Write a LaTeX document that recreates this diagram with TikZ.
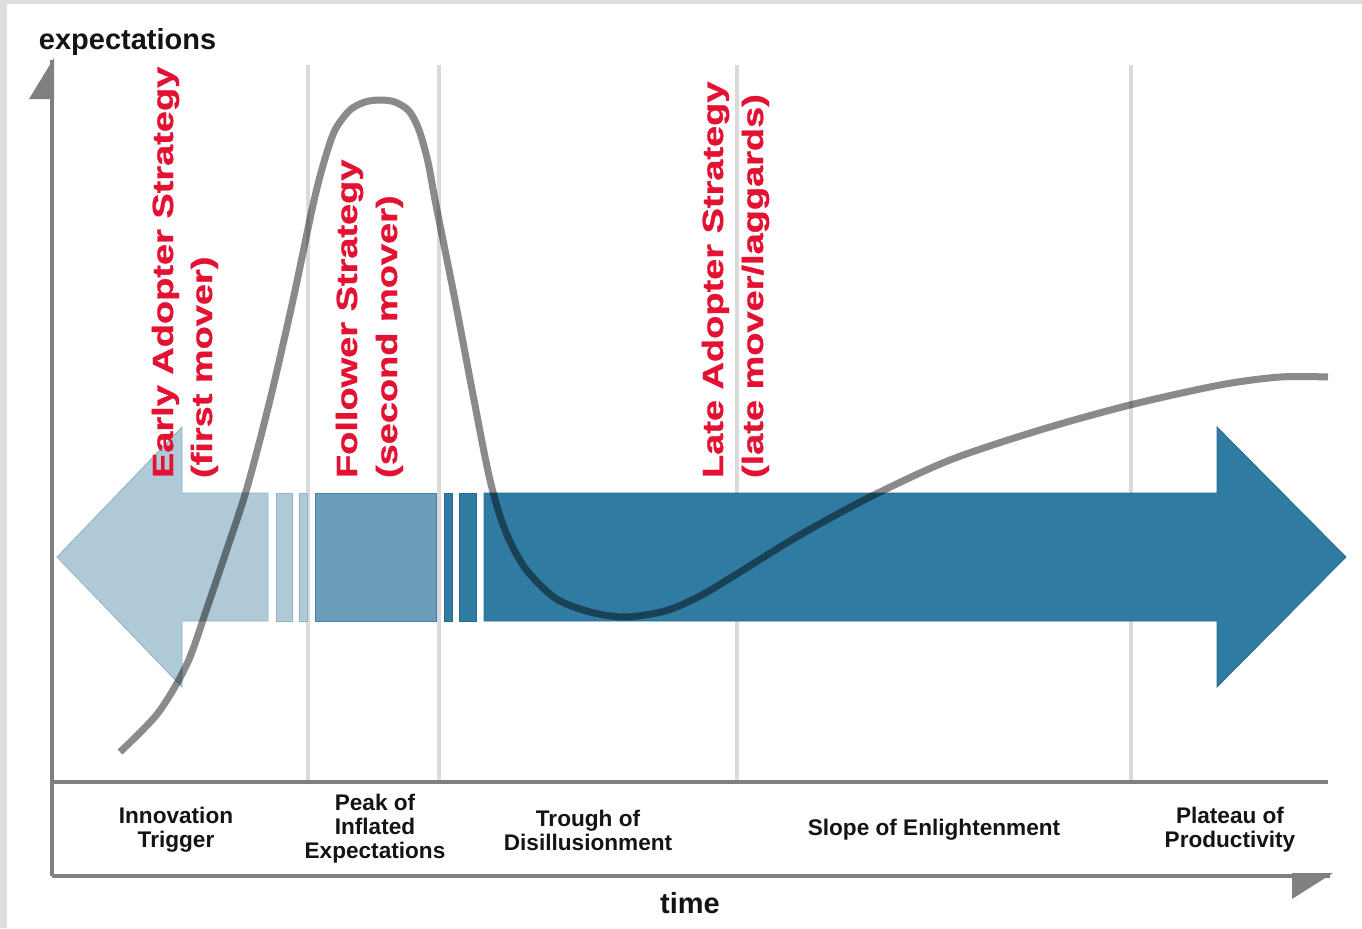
\documentclass[tikz,border=0pt]{standalone}
\usepackage{fontspec}
\setmainfont{Liberation Sans}
\newfontfamily\stratfont[BoldFeatures={FakeBold=0.9}]{Liberation Sans}
\usetikzlibrary{positioning}
\definecolor{framegray}{RGB}{221,221,221}
\definecolor{axisgray}{RGB}{128,128,128}
\definecolor{gridgray}{RGB}{218,218,218}
\definecolor{curvegray}{RGB}{138,138,138}
\definecolor{lightblue}{RGB}{175,201,215}
\definecolor{lightedge}{RGB}{140,180,202}
\definecolor{midblue}{RGB}{105,157,184}
\definecolor{midedge}{RGB}{70,130,165}
\definecolor{darkblue}{RGB}{47,123,162}
\definecolor{darkedge}{RGB}{38,108,146}
\definecolor{stratred}{RGB}{228,18,50}
\definecolor{labelblack}{RGB}{20,20,20}
\begin{document}
\begin{tikzpicture}[x=0.5pt,y=-0.5pt,inner sep=0pt,outer sep=0pt,
gridline/.style={gridgray,line width=2.2pt},
axisline/.style={axisgray,line width=2pt},
lightarrow/.style={fill=lightblue,draw=lightedge,line width=0.4pt},
midarrow/.style={fill=midblue,draw=midedge,line width=0.4pt},
darkarrow/.style={fill=darkblue,draw=darkedge,line width=0.4pt},
phaselabel/.style={align=center,text=labelblack,font=\fontsize{11.3}{12}\selectfont\bfseries},
axislabel/.style={text=labelblack,font=\fontsize{14.5}{16}\selectfont\bfseries},
strategy/.style={anchor=base west,rotate=90,xscale=1.3,text=stratred,font=\stratfont\fontsize{14.6}{16}\selectfont\bfseries}]
\useasboundingbox (0,0) rectangle (1362,928);
\fill[framegray] (0,0) rectangle (1362,928);
\fill[white] (7,4) rectangle (1362,928);
\coordinate (origin) at (52,876);
\coordinate (ytop) at (52,60);
\coordinate (xend) at (1330,876);
\coordinate (bandleft) at (52,782);
\coordinate (bandright) at (1328,782);
\foreach \gx in {308,439,737,1131}
  \draw[gridline] (\gx,65) -- (\gx,782);
\draw[axisline] (bandleft) -- (bandright);
\draw[axisline] (origin) -- (ytop);
\draw[axisline] (origin) -- (xend);
\fill[axisgray] (54,58) -- (54,99) -- (29,99) -- cycle;
\fill[axisgray] (1292,873) -- (1333,873) -- (1292,899) -- cycle;
\filldraw[lightarrow] (57,557) -- (182,427) -- (182,493) -- (268,493) -- (268,621) -- (182,621) -- (182,687) -- cycle;
\filldraw[lightarrow] (276,493) rectangle (292,621);
\filldraw[lightarrow] (299,493) rectangle (307,621);
\filldraw[midarrow] (315,493) rectangle (436,621);
\filldraw[darkarrow] (444,493) rectangle (452,621);
\filldraw[darkarrow] (459,493) rectangle (476,621);
\filldraw[darkarrow] (484,493) -- (1217,493) -- (1217,427) -- (1346,557) -- (1217,687) -- (1217,621) -- (484,621) -- cycle;
\draw[curvegray,line width=3.5pt,blend mode=multiply] plot[smooth,tension=0.5] coordinates {(120,752) (158,713) (187,664) (207,608) (226,552) (247,488) (270,400) (293,300) (313,205) (324,162) (335,130) (350,110) (365,102) (380,100) (395,102) (409,111) (419,130) (428,162) (436,205) (455,300) (474,400) (490,480) (505,530) (525,568) (555,598) (590,612) (625,617) (665,611) (700,596) (740,572) (800,535) (870,497) (950,460) (1040,430) (1130,405) (1220,385) (1280,377) (1328,377)};
\node[strategy] (early) at (173,478) {Early Adopter Strategy};
\node[strategy] (earlynote) at (212,478) {(first mover)};
\node[strategy] (follower) at (357,478) {Follower Strategy};
\node[strategy] (followernote) at (397,478) {(second mover)};
\node[strategy] (late) at (723,478) {Late Adopter Strategy};
\node[strategy] (latenote) at (763,478) {(late mover/laggards)};
\node[phaselabel] (trigger) at (176,830) {Innovation\\Trigger};
\node[phaselabel] (peak) at (375,829) {Peak of\\Inflated\\Expectations};
\node[phaselabel] (trough) at (588,830) {Trough of\\Disillusionment};
\node[phaselabel] (slope) at (934,830) {Slope of Enlightenment};
\node[phaselabel] (plateau) at (1230,830) {Plateau of\\Productivity};
\node[axislabel,anchor=west] (ylabel) at (39,42) {expectations};
\node[axislabel] (xlabel) at (690,903) {time};
\end{tikzpicture}
\end{document}
